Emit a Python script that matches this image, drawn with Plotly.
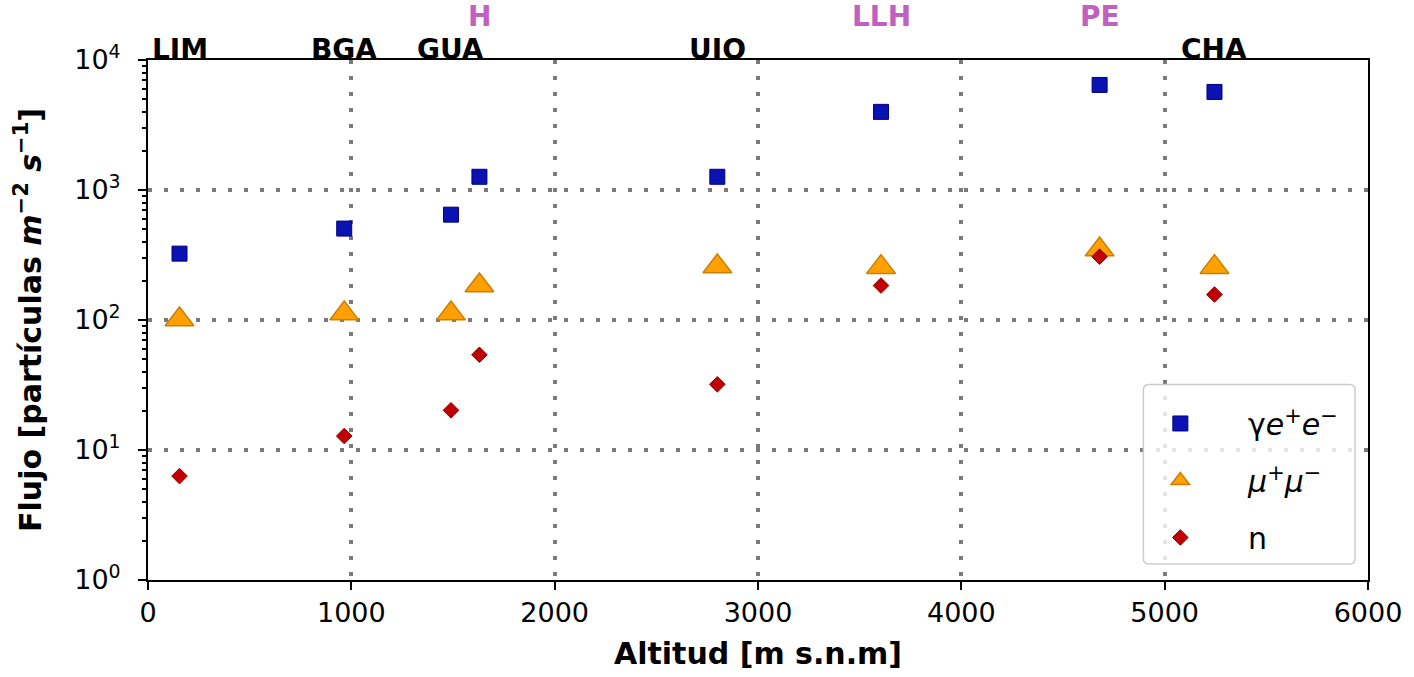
import plotly.graph_objects as go

# Station data
stations = ["LIM", "BGA", "GUA", "H", "UIO", "LLH", "PE", "CHA"]
altitude = [155, 965, 1490, 1630, 2800, 3605, 4680, 5245]
label_color = ["black", "black", "black", "purple", "black", "purple", "purple", "black"]

flux_gamma = [324, 505, 646, 1264, 1264, 3990, 6430, 5680]
flux_muon = [101, 112, 112, 184, 258, 255, 348, 255]
flux_n = [6.3, 12.8, 20.2, 54, 32, 184, 307, 157]

x_ticks = [0, 1000, 2000, 3000, 4000, 5000, 6000]
y_ticks = [1, 10, 100, 1000, 10000]
y_ticktext = ["10<sup>0</sup>", "10<sup>1</sup>", "10<sup>2</sup>", "10<sup>3</sup>", "10<sup>4</sup>"]

FONT = "DejaVu Sans"
TICK = 27
TITLE = 30
sp = "&nbsp;" * 5

fig = go.Figure()
fig.add_trace(go.Scatter(
    x=altitude, y=flux_gamma, mode="markers",
    name=sp + "γ<i>e</i><sup>+</sup><i>e</i><sup>−</sup>",
    marker=dict(symbol="square", size=15, color="#0a12b2", line=dict(color="#000080", width=1)),
    legendgroup="a"))
fig.add_trace(go.Scatter(
    x=altitude, y=flux_muon, mode="markers",
    name=sp + "<i>μ</i><sup>+</sup><i>μ</i><sup>−</sup>",
    marker=dict(symbol="triangle-up", size=25, color="#ffa000", line=dict(color="#c98000", width=1.5)),
    legendgroup="b"))
fig.add_trace(go.Scatter(
    x=altitude, y=flux_n, mode="markers",
    name=sp + "n",
    marker=dict(symbol="diamond", size=12, color="#c00000", line=dict(color="#900000", width=1)),
    legendgroup="c"))

for s, a, c in zip(stations, altitude, label_color):
    purple = c == "purple"
    fig.add_annotation(
        x=a, y=1.0, xref="x", yref="paper",
        text="<b>%s</b>" % s, showarrow=False, yanchor="bottom", xanchor="center",
        height=24, yshift=30 if purple else -3,
        font=dict(family=FONT, size=28, color="#c060c0" if purple else "black"))

minor_vals = [m * 10 ** d for d in range(0, 4) for m in range(2, 10)]

grid = dict(showgrid=True, gridcolor="#7a7a7a", griddash="4px,12px", gridwidth=4, zeroline=False)

fig.update_xaxes(
    range=[0, 6000], tickvals=x_ticks, ticks="outside", ticklen=8, tickwidth=1.5,
    tickcolor="black", showline=True, linecolor="black", linewidth=2, mirror=True,
    tickfont=dict(family=FONT, size=TICK, color="black"),
    title=dict(text="<b>Altitud [m s.n.m]</b>", font=dict(family=FONT, size=TITLE, color="black"), standoff=16),
    **grid)
fig.update_yaxes(
    type="log", range=[0, 4], tickvals=y_ticks, ticktext=y_ticktext,
    ticks="outside", ticklen=8, tickwidth=1.5, tickcolor="black", ticklabelstandoff=12,
    minor=dict(tickvals=minor_vals, ticks="outside", ticklen=4, tickcolor="black", showgrid=False),
    showline=True, linecolor="black", linewidth=2, mirror=True,
    tickfont=dict(family=FONT, size=TICK, color="black"),
    title=dict(text="<b>Flujo [partículas <i>m</i><sup>−2</sup> <i>s</i><sup>−1</sup>]</b>",
               font=dict(family=FONT, size=TITLE, color="black"), standoff=24),
    **grid)

# legend frame (rounded, semi-transparent like the reference)
x0, x1, y0, y1 = 0.8159, 0.9894, 0.0307, 0.3762
rx, ry = 0.0045, 0.0105
path = (f"M {x0+rx},{y0} L {x1-rx},{y0} Q {x1},{y0} {x1},{y0+ry} "
        f"L {x1},{y1-ry} Q {x1},{y1} {x1-rx},{y1} L {x0+rx},{y1} Q {x0},{y1} {x0},{y1-ry} "
        f"L {x0},{y0+ry} Q {x0},{y0} {x0+rx},{y0} Z")
fig.add_shape(type="path", path=path, xref="paper", yref="paper",
              fillcolor="rgba(255,255,255,0.8)", line=dict(color="#cccccc", width=1.5), layer="above")

fig.update_layout(
    width=1414, height=677,
    margin=dict(l=148, r=44, t=60, b=96),
    plot_bgcolor="white", paper_bgcolor="white",
    font=dict(family=FONT, size=TICK, color="black"),
    legend=dict(x=0.8298, y=0.351, xanchor="left", yanchor="top",
                bgcolor="rgba(0,0,0,0)", borderwidth=0,
                font=dict(family=FONT, size=30, color="black"),
                tracegroupgap=15, itemsizing="trace"),
    showlegend=True,
)

fig.write_html("out.html", config={"displayModeBar": False},
               post_script="document.body.style.margin='0px';")
